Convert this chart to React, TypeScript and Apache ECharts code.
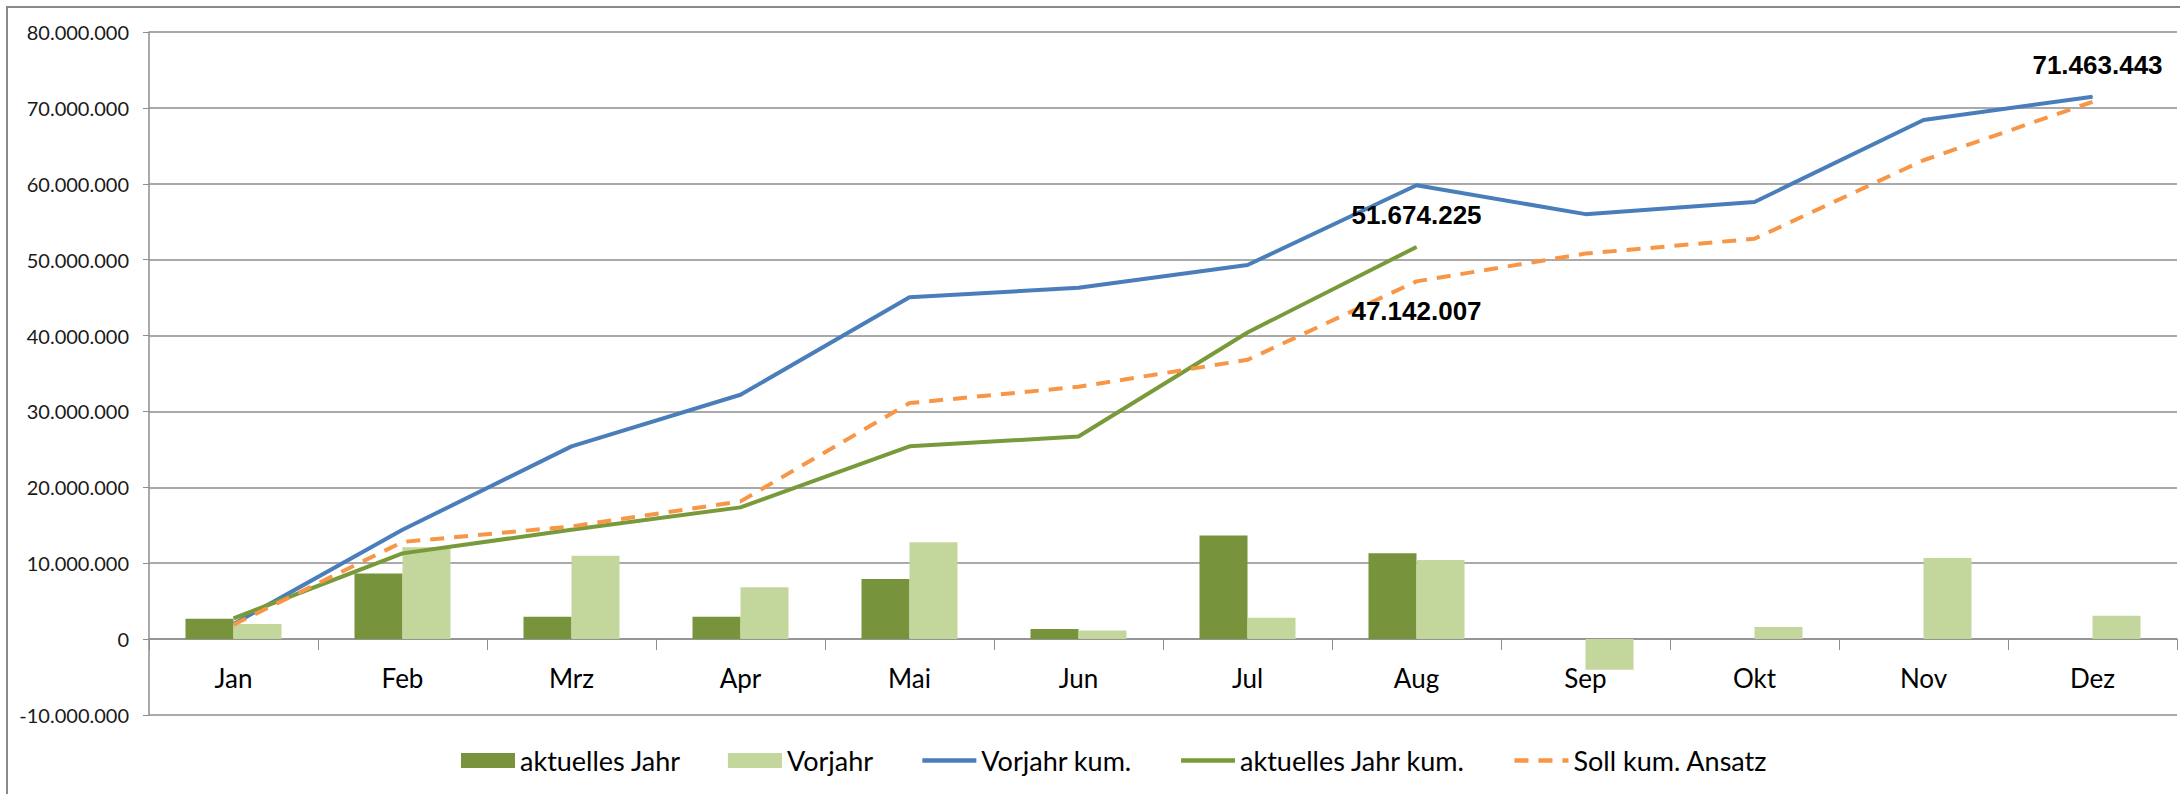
import React, { useEffect, useRef } from "react";
import * as echarts from "echarts";

const months = ["Jan", "Feb", "Mrz", "Apr", "Mai", "Jun", "Jul", "Aug", "Sep", "Okt", "Nov", "Dez"];

const aktuellesJahr = [2690000, 8630000, 2950000, 2950000, 7930000, 1320000, 13660000, 11320000, null, null, null, null];
const vorjahr = [1980000, 12100000, 11000000, 6830000, 12780000, 1150000, 2820000, 10440000, -4050000, 1590000, 10700000, 3080000];
const vorjahrKum = [1980000, 14400000, 25400000, 32200000, 45050000, 46300000, 49300000, 59800000, 56000000, 57600000, 68400000, 71463443];
const aktuellesJahrKum = [2730000, 11300000, 14400000, 17360000, 25400000, 26700000, 40400000, 51674225, null, null, null, null];
const sollKum = [1900000, 12800000, 14850000, 18150000, 31100000, 33250000, 36800000, 47142007, 50800000, 52750000, 63100000, 70800000];

const yMin = -10000000;
const yMax = 80000000;
const yStep = 10000000;

const fmt = (v: number) => {
  const s = String(Math.round(Math.abs(v))).replace(/\B(?=(\d{3})+(?!\d))/g, ".");
  return (v < 0 ? "-" : "") + s;
};

const labelStyle = {
  show: true,
  fontFamily: "Liberation Sans, Arial, sans-serif",
  fontWeight: "bold" as const,
  fontSize: 26,
  color: "#000",
  formatter: (p: any) => fmt(p.value),
};

const withLabel = (arr: (number | null)[], idx: number, label: any, color: string) =>
  arr.map((v, i) =>
    i === idx ? { value: v, symbol: "circle", symbolSize: 1, itemStyle: { color }, label } : v
  );

const hiddenSymbol = { color: "rgba(0,0,0,0)", borderColor: "rgba(0,0,0,0)", borderWidth: 0, opacity: 0 };

export default function App() {
  const ref = useRef<HTMLDivElement>(null);
  useEffect(() => {
    document.body.style.margin = "0";
    if (!ref.current) return;
    const chart = echarts.init(ref.current, undefined, { renderer: "svg" });
    const grey = "#8e8e8e";
    const blue = "#4A7EBB";
    const green = "#789A3A";
    const orange = "#F79646";
    chart.setOption({
      animation: false,
      backgroundColor: "#fff",
      graphic: [
        {
          type: "rect",
          shape: { x: 7, y: 7, width: 2200, height: 800 },
          style: { fill: "none", stroke: "#8a8a8a", lineWidth: 2 },
          z: -1,
        },
      ],
      grid: { left: 149, right: 3, top: 32, bottom: 79 },
      legend: {
        left: 461,
        top: 747,
        padding: 0,
        itemGap: 47,
        itemWidth: 54,
        itemHeight: 15,
        lineStyle: { width: 4.5 },
        textStyle: { fontFamily: "Lato", fontSize: 27, color: "#000" },
        data: [
          { name: "aktuelles Jahr", icon: "rect" },
          { name: "Vorjahr", icon: "rect" },
          { name: "Vorjahr kum.", itemStyle: hiddenSymbol },
          { name: "aktuelles Jahr kum.", itemStyle: hiddenSymbol },
          { name: "Soll kum. Ansatz", itemStyle: hiddenSymbol },
        ],
      },
      xAxis: {
        type: "category",
        data: months,
        boundaryGap: true,
        offset: -76,
        axisLine: { show: true, onZero: false, lineStyle: { color: grey, width: 1.5 } },
        axisTick: { show: true, length: 11, alignWithLabel: false, lineStyle: { color: grey } },
        axisLabel: { fontFamily: "Lato", fontSize: 26, color: "#000", margin: 26 },
        splitLine: { show: false },
      },
      yAxis: {
        type: "value",
        min: yMin,
        max: yMax,
        interval: yStep,
        axisLine: { show: true, lineStyle: { color: grey, width: 1.5 } },
        axisTick: { show: true, length: 6, lineStyle: { color: grey } },
        axisLabel: { fontFamily: "Lato", fontSize: 20, color: "#1a1a1a", margin: 20, formatter: (v: number) => fmt(v) },
        splitLine: { show: true, lineStyle: { color: grey, width: 1.5 } },
      },
      series: [
        {
          name: "aktuelles Jahr",
          type: "bar",
          data: aktuellesJahr,
          barWidth: 48,
          barGap: "0%",
          itemStyle: { color: "#77933C" },
        },
        {
          name: "Vorjahr",
          type: "bar",
          data: vorjahr,
          barWidth: 48,
          barGap: "0%",
          itemStyle: { color: "#C3D69B" },
        },
        {
          name: "Vorjahr kum.",
          type: "line",
          data: withLabel(vorjahrKum, 11, { ...labelStyle, position: "top", distance: 18, offset: [5, 0] }, blue),
          symbol: "none",
          showSymbol: true,
          lineStyle: { color: blue, width: 4 },
          itemStyle: { color: blue },
          z: 3,
        },
        {
          name: "aktuelles Jahr kum.",
          type: "line",
          data: withLabel(aktuellesJahrKum, 7, { ...labelStyle, position: "top", distance: 18 }, green),
          symbol: "none",
          showSymbol: true,
          lineStyle: { color: green, width: 4 },
          itemStyle: { color: green },
          z: 4,
        },
        {
          name: "Soll kum. Ansatz",
          type: "line",
          data: withLabel(sollKum, 7, { ...labelStyle, position: "bottom", distance: 16 }, orange),
          symbol: "none",
          showSymbol: true,
          lineStyle: { color: orange, width: 4, type: [14, 10] },
          itemStyle: { color: orange },
          z: 5,
        },
      ],
    });
    return () => chart.dispose();
  }, []);
  return <div ref={ref} style={{ width: 2180, height: 794 }} />;
}
